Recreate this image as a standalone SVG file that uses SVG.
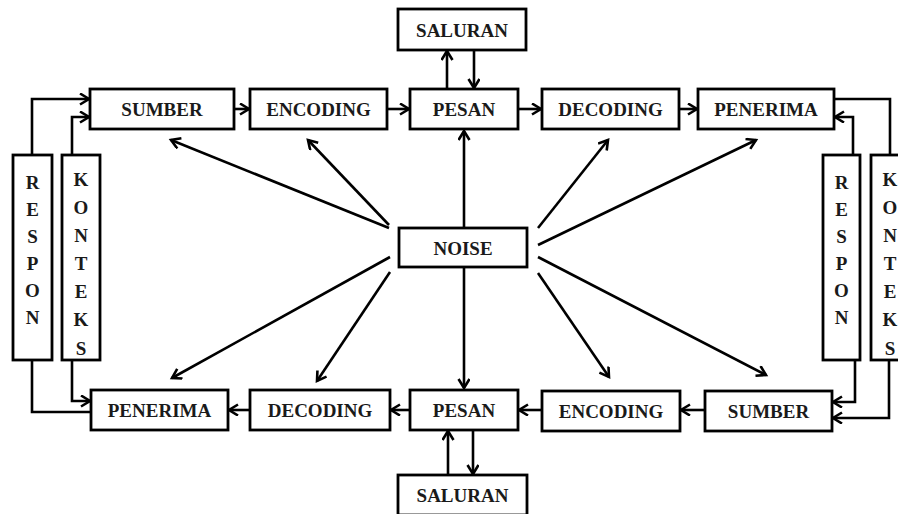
<svg xmlns="http://www.w3.org/2000/svg" width="898" height="514" viewBox="0 0 898 514">
<defs>
<marker id="ah" markerWidth="14" markerHeight="14" refX="10" refY="6" orient="auto" markerUnits="userSpaceOnUse">
<path d="M1,0.5 L10,6 L1,11.5" fill="none" stroke="#000" stroke-width="2.6" stroke-linejoin="miter"/>
</marker>
<style>
.b{fill:#fff;stroke:#000;stroke-width:2.8}
.t{font-family:"Liberation Serif","Times New Roman",serif;font-weight:bold;font-size:19px;fill:#1a1a1a;text-anchor:middle}
.v{font-family:"Liberation Serif","Times New Roman",serif;font-weight:bold;font-size:19px;fill:#1a1a1a;text-anchor:middle}
.c{fill:none;stroke:#000;stroke-width:2.6}
.a{marker-end:url(#ah)}
</style>
</defs>
<rect width="898" height="514" fill="#fff"/>
<g id="connectors">
<path class="c a" d="M234,109 H249"/>
<path class="c a" d="M387,109 H409"/>
<path class="c a" d="M518,109 H541"/>
<path class="c a" d="M679,109 H697"/>
<path class="c a" d="M705,410 H681"/>
<path class="c a" d="M542,410 H519"/>
<path class="c a" d="M410,410 H391"/>
<path class="c a" d="M250,410 H229"/>
<path class="c a" d="M447,89 V51"/>
<path class="c a" d="M474,50 V88"/>
<path class="c a" d="M448,475 V431"/>
<path class="c a" d="M473,430 V474"/>
<path class="c a" d="M389,228 L171,140"/>
<path class="c a" d="M389,225 L308,140"/>
<path class="c a" d="M464,228 V131"/>
<path class="c a" d="M538,228 L608,140"/>
<path class="c a" d="M538,245 L756,140"/>
<path class="c a" d="M390,257 L172,378"/>
<path class="c a" d="M390,272 L317,381"/>
<path class="c a" d="M464,268 V388"/>
<path class="c a" d="M538,273 L609,377"/>
<path class="c a" d="M538,257 L766,375"/>
<path class="c a" d="M32,155 V99 H89"/>
<path class="c a" d="M72,155 V117 H89"/>
<path class="c" d="M32,360 V412 H91"/>
<path class="c a" d="M72,360 V401 H90"/>
<path class="c" d="M834,99 H890 V155"/>
<path class="c a" d="M853,155 V117 H835"/>
<path class="c a" d="M855,360 V402 H833"/>
<path class="c a" d="M889,360 V418 H833"/>
</g>
<g id="saluran-top"><rect class="b" x="398" y="9" width="128" height="41"/><text class="t" x="462" y="36.5">SALURAN</text></g>
<g id="sumber-top"><rect class="b" x="90" y="89" width="144" height="40"/><text class="t" x="162" y="116">SUMBER</text></g>
<g id="encoding-top"><rect class="b" x="250" y="89" width="137" height="40"/><text class="t" x="318.5" y="116">ENCODING</text></g>
<g id="pesan-top"><rect class="b" x="410" y="89" width="108" height="40"/><text class="t" x="464" y="116">PESAN</text></g>
<g id="decoding-top"><rect class="b" x="542" y="89" width="137" height="40"/><text class="t" x="610.5" y="116">DECODING</text></g>
<g id="penerima-top"><rect class="b" x="698" y="89" width="136" height="40"/><text class="t" x="766" y="116">PENERIMA</text></g>
<g id="noise"><rect class="b" x="399" y="228" width="128" height="39"/><text class="t" x="463" y="255">NOISE</text></g>
<g id="penerima-bottom"><rect class="b" x="91" y="390" width="137" height="40"/><text class="t" x="159.5" y="417">PENERIMA</text></g>
<g id="decoding-bottom"><rect class="b" x="250" y="390" width="140" height="40"/><text class="t" x="320" y="417">DECODING</text></g>
<g id="pesan-bottom"><rect class="b" x="410" y="390" width="108" height="40"/><text class="t" x="464" y="417">PESAN</text></g>
<g id="encoding-bottom"><rect class="b" x="542" y="391" width="138" height="40"/><text class="t" x="611" y="418">ENCODING</text></g>
<g id="sumber-bottom"><rect class="b" x="705" y="391" width="127" height="40"/><text class="t" x="768.5" y="418">SUMBER</text></g>
<g id="saluran-bottom"><rect class="b" x="398" y="475" width="129" height="40"/><text class="t" x="462.5" y="502">SALURAN</text></g>
<g id="respon-left"><rect class="b" x="13" y="155" width="39" height="205"/>
<text class="v" x="32.5" y="189">R</text><text class="v" x="32.5" y="216">E</text><text class="v" x="32.5" y="243">S</text><text class="v" x="32.5" y="270">P</text><text class="v" x="32.5" y="297">O</text><text class="v" x="32.5" y="324">N</text></g>
<g id="konteks-left"><rect class="b" x="62" y="155" width="38" height="205"/>
<text class="v" x="81" y="186">K</text><text class="v" x="81" y="214">O</text><text class="v" x="81" y="242">N</text><text class="v" x="81" y="270">T</text><text class="v" x="81" y="298">E</text><text class="v" x="81" y="326">K</text><text class="v" x="81" y="355">S</text></g>
<g id="respon-right"><rect class="b" x="823" y="155" width="37" height="205"/>
<text class="v" x="841.5" y="189">R</text><text class="v" x="841.5" y="216">E</text><text class="v" x="841.5" y="243">S</text><text class="v" x="841.5" y="270">P</text><text class="v" x="841.5" y="297">O</text><text class="v" x="841.5" y="324">N</text></g>
<g id="konteks-right"><rect class="b" x="871" y="155" width="40" height="205"/>
<text class="v" x="890" y="186">K</text><text class="v" x="890" y="214">O</text><text class="v" x="890" y="242">N</text><text class="v" x="890" y="270">T</text><text class="v" x="890" y="298">E</text><text class="v" x="890" y="326">K</text><text class="v" x="890" y="355">S</text></g>
</svg>
